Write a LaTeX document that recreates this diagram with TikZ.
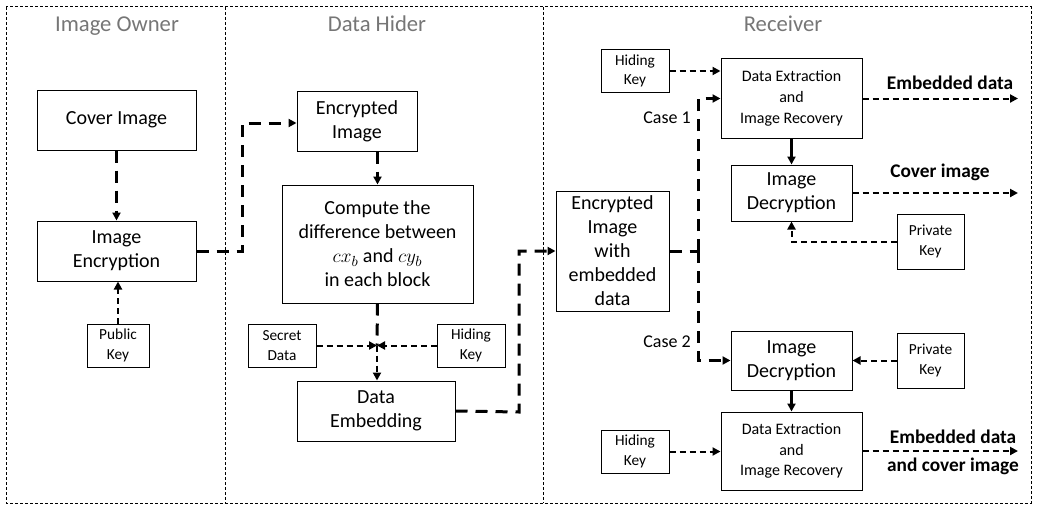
\documentclass[tikz,border=0pt]{standalone}
\usepackage{fontspec}
\setmainfont{Carlito}
\usetikzlibrary{arrows.meta}

\tikzset{every picture/.style={line width=0.75pt}}
\tikzset{
  box/.style={draw, line width=0.75pt, align=center, inner sep=0pt, font=\fontsize{15}{18}\selectfont},
  keybox/.style={box, font=\fontsize{11.5}{14.5}\selectfont},
  midbox/.style={box, font=\fontsize{12}{15.5}\selectfont},
  title/.style={anchor=base, text={rgb,255:red,118;green,118;blue,118}, font=\fontsize{17}{20}\selectfont},
  outlabel/.style={align=center, font=\bfseries\fontsize{14.5}{21}\selectfont},
  caselabel/.style={font=\fontsize{13.5}{16}\selectfont},
  thickflow/.style={line width=2.25pt, dash pattern=on 9pt off 6pt, -{Triangle[length=6pt,width=6pt]}},
  thinflow/.style={line width=1.5pt, dash pattern=on 4.5pt off 3pt, -{Triangle[length=6pt,width=6pt]}},
  solidflow/.style={line width=2.25pt, -{Triangle[length=6pt,width=6pt]}},
  frame/.style={line width=0.75pt, dash pattern=on 2.25pt off 1.5pt}
}

\begin{document}
\begin{tikzpicture}[x=0.75pt,y=0.75pt,yscale=-1,xscale=1]
\useasboundingbox (0,0) rectangle (1037,510);

%Shape: Frame and dividers
\draw [frame] (6,7) rectangle (1031,503);
\draw [frame] (225,7) -- (225,503);
\draw [frame] (543,7) -- (543,503);

% Titles
\node [title] (towner) at (117,32) {Image Owner};
\node [title] (thider) at (377,32) {Data Hider};
\node [title] (trecv) at (783,32) {Receiver};

%Image Owner
\node [box, minimum width=159*0.75pt, minimum height=60*0.75pt] (cover) at (116.5,120) {Cover Image};
\node [box, minimum width=159*0.75pt, minimum height=60*0.75pt] (enc) at (116.5,251) {Image\\Encryption};
\node [keybox, minimum width=62*0.75pt, minimum height=43*0.75pt] (pubkey) at (118,345.5) {Public\\Key};

%Data Hider
\node [box, minimum width=120*0.75pt, minimum height=60*0.75pt] (encimg) at (357,121) {Encrypted\\Image};
\node [box, minimum width=191*0.75pt, minimum height=118*0.75pt] (compute) at (377.5,244) {Compute the\\difference between\\$cx_b$ and $cy_b$\\in each block};
\node [keybox, minimum width=68*0.75pt, minimum height=43*0.75pt] (secret) at (282,345.5) {Secret\\Data};
\node [keybox, minimum width=68*0.75pt, minimum height=43*0.75pt] (hidekey) at (471,345.5) {Hiding\\Key};
\node [box, minimum width=158*0.75pt, minimum height=60*0.75pt] (embed) at (376,411) {Data\\Embedding};
\coordinate (join) at (377,345.5);

%Receiver
\node [box, minimum width=113*0.75pt, minimum height=120*0.75pt] (marked) at (612.5,251) {Encrypted\\Image\\with\\embedded\\data};
\node [keybox, minimum width=68*0.75pt, minimum height=42*0.75pt] (hkeyA) at (635,71) {Hiding\\Key};
\node [midbox, minimum width=141*0.75pt, minimum height=79*0.75pt] (extractA) at (791.5,98.5) {Data Extraction\\and\\Image Recovery};
\node [box, minimum width=121*0.75pt, minimum height=56*0.75pt] (decA) at (791.5,193) {Image\\Decryption};
\node [keybox, minimum width=67*0.75pt, minimum height=55*0.75pt] (pkeyA) at (930.5,241.5) {Private\\Key};
\node [box, minimum width=121*0.75pt, minimum height=59*0.75pt] (decB) at (791.5,360.5) {Image\\Decryption};
\node [keybox, minimum width=67*0.75pt, minimum height=55*0.75pt] (pkeyB) at (930.5,360.5) {Private\\Key};
\node [midbox, minimum width=141*0.75pt, minimum height=78*0.75pt] (extractB) at (791.5,451) {Data Extraction\\and\\Image Recovery};
\node [keybox, minimum width=68*0.75pt, minimum height=43*0.75pt] (hkeyB) at (635,451.5) {Hiding\\Key};
\coordinate (split) at (698,251);

% Text Node
\node [caselabel] (caseA) at (667,118) {Case 1};
\node [caselabel] (caseB) at (667,342) {Case 2};
\node [outlabel] (outA) at (950,83) {Embedded data};
\node [outlabel] (outB) at (940,172) {Cover image};
\node [outlabel] (outC) at (953,452) {Embedded data\\and cover image};
\coordinate (endA) at (1018,98.5);

%Connectors
\draw [thickflow] (cover) -- (enc);
\draw [thinflow] (pubkey) -- (pubkey |- enc.south);
\draw [thickflow] (enc.east) -- (242,251) |- ([yshift=2*0.75pt]encimg.west);
\draw [thickflow] (encimg.south -| compute) -- (compute.north);
\draw [thickflow, -] (compute.south) -- (join);
\draw [thickflow, line width=1.5pt, dash pattern=on 4.5pt off 3pt] (join) -- (embed.north -| join);
\draw [thinflow] (secret) -- (join);
\draw [thinflow] (hidekey) -- (join);
\draw [thickflow] (embed.east) -- (519,412) |- (marked.west);
\draw [thickflow, -] (marked.east) -- (split);
\draw [thickflow] (split) |- (extractA.west);
\draw [thickflow] (split) |- (decB.west);
\draw [thinflow] (hkeyA.east) -- (hkeyA.east -| extractA.west);
\draw [solidflow] (extractA) -- (decA);
\draw [thinflow] (extractA.east) -- (endA);
\draw [thinflow] (decA.east) -- (decA.east -| endA);
\draw [thinflow] (pkeyA.west) -| (decA.south);
\draw [thinflow] (pkeyB) -- (decB);
\draw [solidflow] (decB) -- (extractB);
\draw [thinflow] (hkeyB.east) -- (hkeyB.east -| extractB.west);
\draw [thinflow] (extractB.east) -- (extractB.east -| endA);

\end{tikzpicture}
\end{document}
